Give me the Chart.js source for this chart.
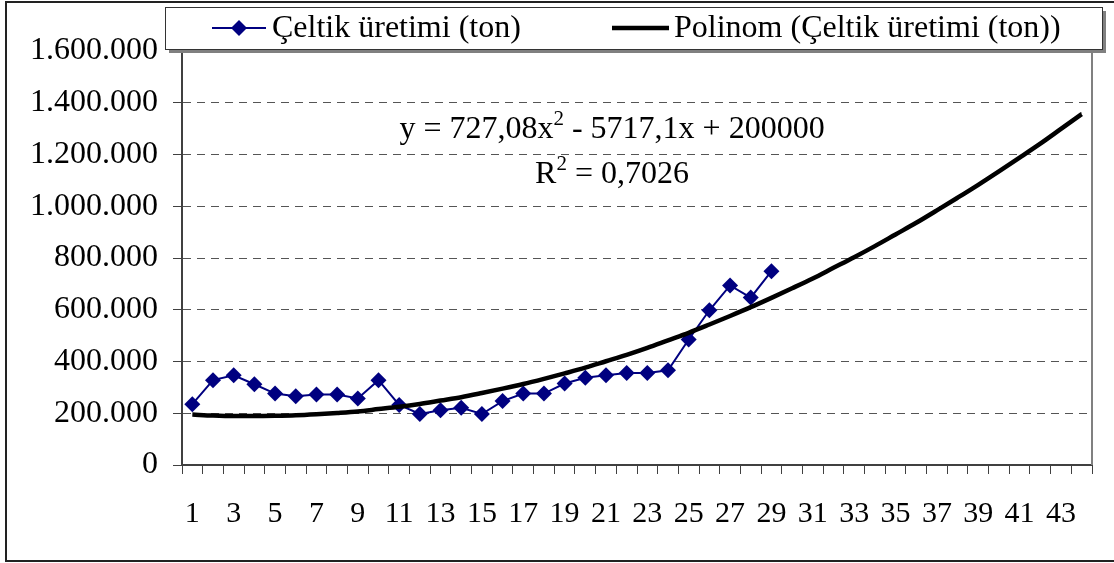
<!DOCTYPE html>
<html><head><meta charset="utf-8">
<script src="https://cdn.jsdelivr.net/npm/chart.js@4"></script>
<style>html,body{margin:0;padding:0;background:#fff}#wrap{width:1114px;height:563px}</style>
</head><body><div id="wrap"><canvas id="c" width="1114" height="563"></canvas></div>
<script>
const categories = ["1","2","3","4","5","6","7","8","9","10","11","12","13","14","15","16","17","18","19","20","21","22","23","24","25","26","27","28","29","30","31","32","33","34","35","36","37","38","39","40","41","42","43","44"];
const productionTons = [235000, 328000, 347000, 312000, 276000, 266000, 272000, 272000, 257000, 328000, 232000, 197000, 212000, 221000, 197000, 247000, 276000, 276000, 315000, 337000, 347000, 356000, 356000, 366000, 485000, 598000, 694000, 647000, 749000];
const trendTons = [195000, 191000, 189000, 189000, 190000, 192000, 196000, 201000, 207000, 216000, 225000, 236000, 249000, 262000, 278000, 295000, 313000, 333000, 354000, 376000, 401000, 426000, 453000, 482000, 511000, 543000, 576000, 610000, 646000, 683000, 721000, 762000, 803000, 846000, 891000, 936000, 984000, 1033000, 1083000, 1135000, 1188000, 1242000, 1299000, 1356000];
const yTickValues = [0, 200000, 400000, 600000, 800000, 1000000, 1200000, 1400000, 1600000];
const seriesNames = ["Çeltik üretimi (ton)", "Polinom (Çeltik üretimi (ton))"];
const equationText = ["y = 727,08x", "2", " - 5717,1x + 200000"];
const r2Text = ["R", "2", " = 0,7026"];

const FONT = '"Liberation Serif", "Times New Roman", serif';
const FS = 32;
const FSX = 30;
function fmt(v){ return String(v).replace(/\B(?=(\d{3})+(?!\d))/g, '.'); }

const decor = {
  id: 'decor',
  beforeDraw(chart){
    const ctx = chart.ctx;
    ctx.save();
    ctx.fillStyle = '#fff';
    ctx.fillRect(0,0,chart.width,chart.height);
    ctx.strokeStyle = '#222';
    ctx.lineWidth = 2;
    ctx.strokeRect(6, 2, 1120, 559);
    ctx.restore();
  },
  afterDraw(chart){
    const ctx = chart.ctx;
    const a = chart.chartArea;
    ctx.save();
    // plot area top/right border
    ctx.strokeStyle = '#808080';
    ctx.lineWidth = 2;
    ctx.beginPath();
    ctx.moveTo(a.left, a.top); ctx.lineTo(a.right, a.top); ctx.lineTo(a.right, a.bottom);
    ctx.stroke();
    // legend box with shadow
    const lx = 165, ly = 7, lw = 937, lh = 42;
    ctx.fillStyle = '#808080';
    ctx.fillRect(lx + 4, ly + 4, lw, lh);
    ctx.fillStyle = '#fff';
    ctx.fillRect(lx, ly, lw, lh);
    ctx.strokeStyle = '#333';
    ctx.lineWidth = 1;
    ctx.strokeRect(lx + 0.5, ly + 0.5, lw, lh);
    const my = ly + lh/2;
    // item 1
    ctx.strokeStyle = '#000080'; ctx.lineWidth = 2;
    ctx.beginPath(); ctx.moveTo(212, my); ctx.lineTo(266, my); ctx.stroke();
    ctx.fillStyle = '#000080';
    ctx.beginPath(); ctx.moveTo(239-8, my); ctx.lineTo(239, my-8); ctx.lineTo(239+8, my); ctx.lineTo(239, my+8); ctx.closePath(); ctx.fill();
    ctx.fillStyle = '#000';
    ctx.font = FS + 'px ' + FONT;
    ctx.textBaseline = 'middle';
    ctx.textAlign = 'left';
    ctx.fillText(seriesNames[0], 272, my + 1);
    // item 2
    ctx.strokeStyle = '#000'; ctx.lineWidth = 4.5;
    ctx.beginPath(); ctx.moveTo(612, my); ctx.lineTo(669, my); ctx.stroke();
    ctx.fillText(seriesNames[1], 674, my + 1);
    // equation
    const cx = 612;
    function drawSup(parts, baseY){
      ctx.textBaseline = 'alphabetic';
      ctx.font = FS + 'px ' + FONT;
      const w0 = ctx.measureText(parts[0]).width;
      const w2 = ctx.measureText(parts[2]).width;
      ctx.font = Math.round(FS*0.65) + 'px ' + FONT;
      const w1 = ctx.measureText(parts[1]).width;
      let x = cx - (w0 + w1 + w2)/2;
      ctx.font = FS + 'px ' + FONT;
      ctx.fillText(parts[0], x, baseY); x += w0;
      ctx.font = Math.round(FS*0.65) + 'px ' + FONT;
      ctx.fillText(parts[1], x, baseY - 13); x += w1;
      ctx.font = FS + 'px ' + FONT;
      ctx.fillText(parts[2], x, baseY);
    }
    ctx.fillStyle = '#000';
    drawSup(equationText, 138);
    drawSup(r2Text, 183);
    ctx.restore();
  }
};

new Chart(document.getElementById('c'), {
  type: 'line',
  data: {
    labels: categories,
    datasets: [
      {
        label: seriesNames[0],
        data: productionTons,
        borderColor: '#000080',
        backgroundColor: '#000080',
        borderWidth: 2,
        pointStyle: 'rectRot',
        pointRadius: 8,
        pointBorderWidth: 0,
        pointBackgroundColor: '#000080',
        tension: 0,
        order: 1
      },
      {
        label: seriesNames[1],
        data: trendTons,
        borderColor: '#000',
        borderWidth: 4.5,
        pointRadius: 0,
        cubicInterpolationMode: 'monotone',
        order: 0
      }
    ]
  },
  options: {
    responsive: false,
    devicePixelRatio: 1,
    animation: false,
    layout: { padding: { top: 51, right: 22, left: 0, bottom: 0 } },
    plugins: { legend: { display: false }, tooltip: { enabled: false } },
    scales: {
      x: {
        type: 'category',
        offset: true,
        grid: { offset: true, drawOnChartArea: false, drawTicks: true, tickLength: 9, color: '#404040', tickColor: '#404040', tickWidth: 1 },
        border: { color: '#404040', width: 2 },
        ticks: {
          autoSkip: false, maxRotation: 0, minRotation: 0,
          color: '#000', font: { family: FONT, size: FSX }, padding: 22,
          callback: function(v, i){ return i % 2 === 0 ? categories[i] : ''; }
        },
        afterFit: function(s){ s.height = 98; }
      },
      y: {
        min: 0, max: 1600000,
        afterBuildTicks: function(s){ s.ticks = yTickValues.map(v => ({ value: v })); },
        grid: {
          color: '#555', lineWidth: 1, tickLength: 9, tickBorderDash: [],
          tickColor: function(c){ return (c.tick && c.tick.value === 1600000) ? 'rgba(0,0,0,0)' : '#404040'; }
        },
        border: { color: '#404040', width: 2, dash: [8, 6] },
        ticks: { color: '#000', font: { family: FONT, size: FS }, padding: 15, callback: function(v){ return fmt(v); } },
        afterFit: function(s){ s.width = 182; }
      }
    }
  },
  plugins: [decor]
});
</script>
</body></html>
